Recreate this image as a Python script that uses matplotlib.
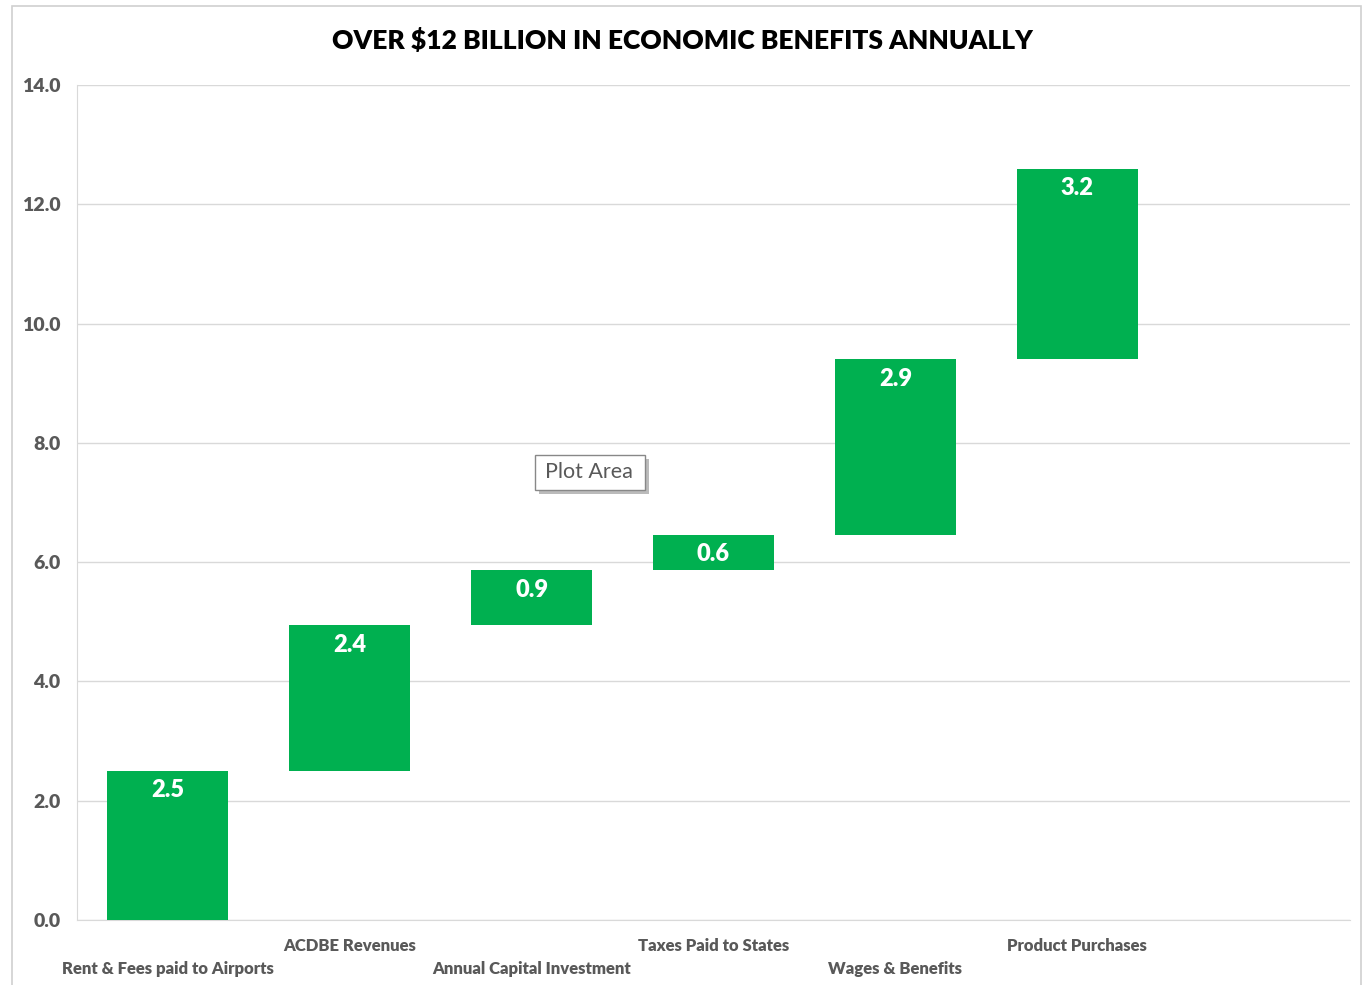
import matplotlib
matplotlib.use("Agg")
import matplotlib.pyplot as plt
from matplotlib.patches import Rectangle

categories = ["Rent & Fees paid to Airports", "ACDBE Revenues", "Annual Capital Investment",
              "Taxes Paid to States", "Wages & Benefits", "Product Purchases", ""]
values = [2.5, 2.44, 0.92, 0.6, 2.94, 3.19]
yticks = [0.0, 2.0, 4.0, 6.0, 8.0, 10.0, 12.0, 14.0]
title = "OVER $12 BILLION IN ECONOMIC BENEFITS ANNUALLY"

green = "#00B050"
gray_txt = "#595959"
grid_c = "#D9D9D9"
font = "Lato"

fig = plt.figure(figsize=(13.64, 9.85), dpi=100)
fig.patch.set_facecolor("white")
fig.patches.append(Rectangle((12/1364, -0.01), (1361-12)/1364, 979/985 + 0.01,
                             transform=fig.transFigure, fill=False, edgecolor="#D0D0D0", lw=1.2))

ax = fig.add_axes([77/1364, (985-920)/985, (1350-77)/1364, (920-85)/985])

bottoms = []
run = 0.0
for v in values:
    bottoms.append(run)
    run += v

x = list(range(len(values)))
ax.bar(x, values, bottom=bottoms, width=0.665, color=green, zorder=3)
for xi, b, v in zip(x, bottoms, values):
    ax.annotate(f"{v:.1f}", (xi, b + v), xytext=(0, -6), textcoords="offset points",
                ha="center", va="top", color="white", fontsize=17, fontweight="heavy",
                family=font, zorder=4)

ax.set_xlim(-0.5, len(categories) - 0.5)
ax.set_ylim(0, 14)
ax.set_yticks(yticks)
ax.set_yticklabels([f"{t:.1f}" for t in yticks], fontsize=14, fontweight="heavy",
                   color=gray_txt, family=font)
ax.yaxis.grid(True, color=grid_c, lw=1, zorder=0)
ax.tick_params(axis="y", length=0, pad=12)
ax.tick_params(axis="x", length=0)
ax.set_xticks([])
for s in ["top", "right"]:
    ax.spines[s].set_visible(False)
ax.spines["left"].set_color(grid_c)
ax.spines["bottom"].set_color(grid_c)

for i, c in enumerate(categories):
    if not c:
        continue
    off = -26 if i % 2 == 1 else -49
    ax.annotate(c, (i, 0), xytext=(0, off * 0.72),
                textcoords="offset points", ha="center", va="center",
                fontsize=12, fontweight="heavy", color=gray_txt, family=font,
                annotation_clip=False)

fig.text(0.5, (985-40)/985, title, ha="center", va="center", fontsize=19,
         fontweight="heavy", family=font, color="black")

fig.patches.append(Rectangle((539/1364, (985-494)/985), 110/1364, 35/985,
                             transform=fig.transFigure, facecolor="#BBBBBB", edgecolor="none", zorder=5))
fig.patches.append(Rectangle((535/1364, (985-490)/985), 110/1364, 35/985,
                             transform=fig.transFigure, facecolor="white", edgecolor="#888888", lw=1, zorder=6))
fig.text(589/1364, (985-472.5)/985, "Plot Area", ha="center", va="center", fontsize=15.5,
         color=gray_txt, family="Lato", zorder=7)

fig.savefig("out.png", dpi=100, facecolor="white")
